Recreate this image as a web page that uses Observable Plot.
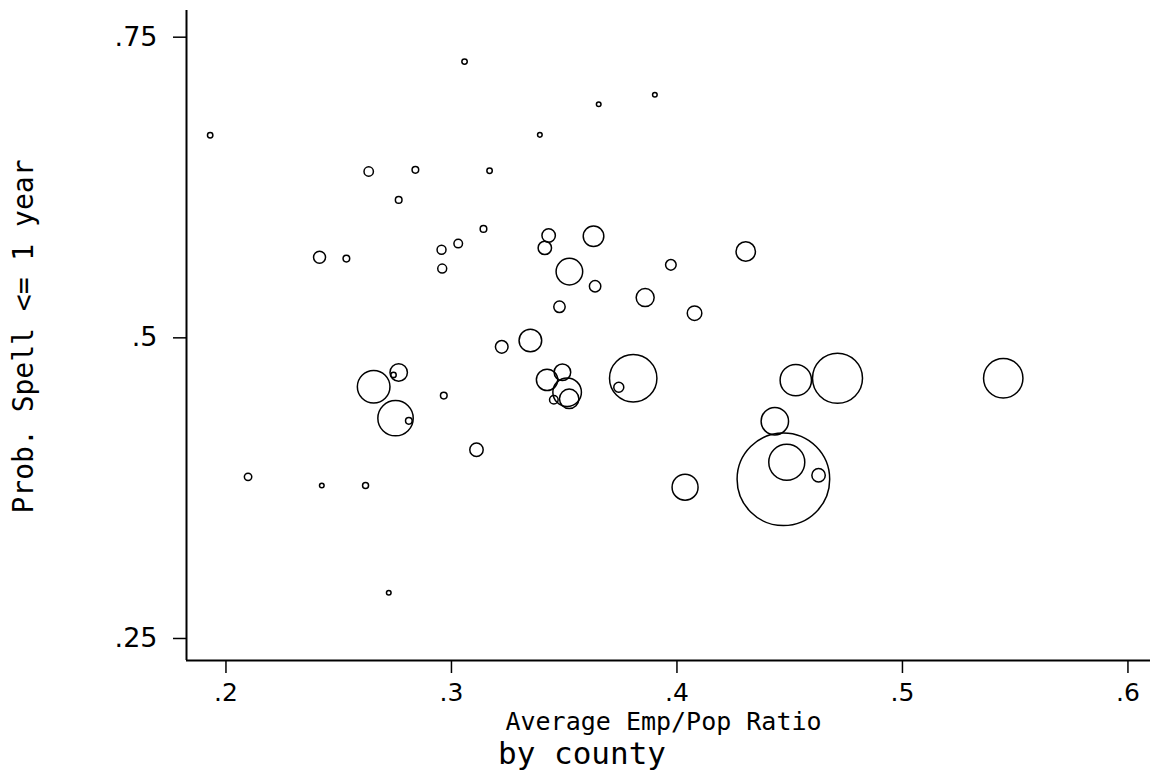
<!DOCTYPE html>
<html>
<head>
<meta charset="utf-8">
<script src="https://cdn.jsdelivr.net/npm/d3@7"></script>
<script src="https://cdn.jsdelivr.net/npm/@observablehq/plot@0.6"></script>
<style>
  html, body { margin: 0; padding: 0; background: #fff; }
  #chart { position: relative; width: 1155px; height: 779px; }
  #note {
    position: absolute; left: 498px; top: 735px;
    font-family: "DejaVu Sans Mono", monospace; font-size: 31px; line-height: normal;
    color: #000; white-space: nowrap;
  }
</style>
</head>
<body>
<div id="chart"></div>
<script>
// Average Emp/Pop Ratio (x), Prob. Spell <= 1 year (y), county weight (marker area)
const empPop = [
  0.1930, 0.2633, 0.2840, 0.2766, 0.2415, 0.2534, 0.2956, 0.2959, 0.3058, 0.3653,
  0.3902, 0.3392, 0.3169, 0.3142, 0.3030, 0.3431, 0.3414, 0.3630, 0.3523, 0.3637,
  0.3973, 0.3859, 0.3479, 0.4078, 0.4305, 0.3223, 0.3350, 0.3424, 0.3492, 0.3513,
  0.3454, 0.3522, 0.3806, 0.3742, 0.2966, 0.3111, 0.4036, 0.2655, 0.2766, 0.2743,
  0.2752, 0.2811, 0.2098, 0.2425, 0.2619, 0.2722, 0.4527, 0.4712, 0.5447, 0.4434,
  0.4472, 0.4487, 0.4628
];
const probSpell = [
  0.6660, 0.6358, 0.6372, 0.6122, 0.5645, 0.5634, 0.5707, 0.5551, 0.7272, 0.6917,
  0.6996, 0.6663, 0.6364, 0.5881, 0.5759, 0.5826, 0.5723, 0.5820, 0.5526, 0.5404,
  0.5582, 0.5310, 0.5233, 0.5180, 0.5693, 0.4900, 0.4953, 0.4626, 0.4689, 0.4523,
  0.4460, 0.4468, 0.4639, 0.4564, 0.4495, 0.4044, 0.3733, 0.4568, 0.4687, 0.4667,
  0.4307, 0.4285, 0.3819, 0.3747, 0.3747, 0.2855, 0.4623, 0.4639, 0.4639, 0.4282,
  0.3799, 0.3941, 0.3833
];
const countyWeight = [
  7.3, 22, 11, 11, 36, 11, 20, 20, 7.3, 5.3,
  5.3, 5.3, 7.3, 11, 18.5, 45, 45, 106, 177, 32.5,
  28, 81, 32.5, 53, 94, 40, 128, 114, 69, 204,
  18.5, 94, 562, 25, 11, 45, 169, 266, 76, 7.3,
  313, 11, 13.7, 5.3, 9, 5.3, 246, 625, 388, 188,
  2144, 324, 45
];
const xTicks = [0.2, 0.3, 0.4, 0.5, 0.6];
const yTicks = [0.25, 0.5, 0.75];
const xDomain = [0.1825, 0.61];
const yDomain = [0.2292, 0.7697];
const xLabel = "Average Emp/Pop Ratio";
const yLabel = "Prob. Spell <= 1 year";
const noteText = "by county";

const data = empPop.map((x, i) => ({x, y: probSpell[i], w: countyWeight[i]}));
const fmt = d => String(d).replace(/^0\./, ".");
const mono = "'DejaVu Sans Mono', monospace";

const W = 1155, H = 742, mL = 186, mR = 5, mT = 10, mB = 82;

const chart = Plot.plot({
  width: W, height: H,
  marginLeft: mL, marginRight: mR, marginTop: mT, marginBottom: mB,
  style: {fontFamily: "'DejaVu Sans', sans-serif", background: "#fff", color: "#000"},
  x: {domain: xDomain, axis: null},
  y: {domain: yDomain, axis: null},
  r: {type: "sqrt", domain: [0, d3.max(countyWeight)], range: [0, 46.3]},
  marks: [
    Plot.axisX({ticks: xTicks, tickFormat: fmt, tickSize: 13, tickPadding: 10, fontSize: 25, strokeWidth: 1.5, label: null}),
    Plot.axisY({ticks: yTicks, tickFormat: fmt, tickSize: 13, tickPadding: 16, fontSize: 27, dy: 3, strokeWidth: 1.5, label: null}),
    Plot.ruleX([xDomain[0]], {stroke: "#000", strokeWidth: 2}),
    Plot.ruleY([yDomain[0]], {stroke: "#000", strokeWidth: 2}),
    Plot.dot(data, {x: "x", y: "y", r: "w", stroke: "#000", strokeWidth: 1.5, fill: "none"}),
    Plot.text([xLabel], {text: d => d, frameAnchor: "bottom", textAnchor: "middle", lineAnchor: "middle", dx: -5, dy: 61, fontSize: 25, fontFamily: mono, fill: "#000"}),
    Plot.text([yLabel], {text: d => d, frameAnchor: "left", rotate: -90, textAnchor: "middle", lineAnchor: "middle", dx: -162, dy: 1, fontSize: 28, fontFamily: mono, fill: "#000"})
  ]
});
const root = document.getElementById("chart");
root.appendChild(chart);
const note = document.createElement("div");
note.id = "note";
note.textContent = noteText;
root.appendChild(note);
</script>
</body>
</html>
